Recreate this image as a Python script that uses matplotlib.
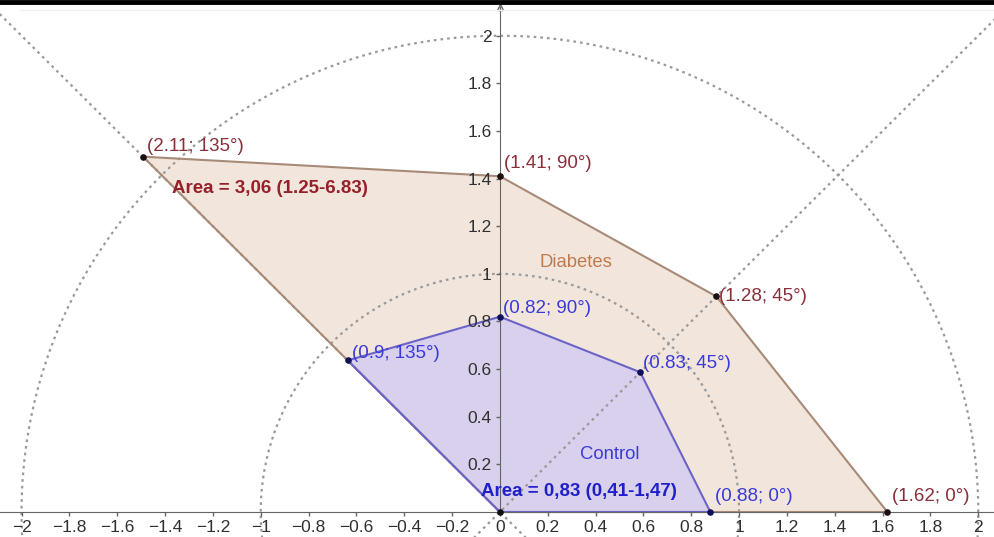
import numpy as np
import matplotlib
matplotlib.use('Agg')
from matplotlib import pyplot as plt
from matplotlib.lines import Line2D

plt.rcParams['font.family'] = ['Liberation Sans', 'DejaVu Sans']

# polar values (radius, angle in degrees)
angles = [0, 45, 90, 135]
diabetes_r = [1.62, 1.28, 1.41, 2.11]
control_r = [0.88, 0.83, 0.82, 0.9]
diabetes_area = 'Area = 3,06 (1.25-6.83)'
control_area = 'Area = 0,83 (0,41-1,47)'

x_ticks = [-2, -1.8, -1.6, -1.4, -1.2, -1, -0.8, -0.6, -0.4, -0.2, 0,
           0.2, 0.4, 0.6, 0.8, 1, 1.2, 1.4, 1.6, 1.8, 2]
x_labels = ['\u22122', '\u22121.8', '\u22121.6', '\u22121.4', '\u22121.2', '\u22121',
            '\u22120.8', '\u22120.6', '\u22120.4', '\u22120.2', '0',
            '0.2', '0.4', '0.6', '0.8', '1', '1.2', '1.4', '1.6', '1.8', '2']
y_ticks = [0.2, 0.4, 0.6, 0.8, 1, 1.2, 1.4, 1.6, 1.8, 2]
y_labels = ['0.2', '0.4', '0.6', '0.8', '1', '1.2', '1.4', '1.6', '1.8', '2']
circle_r = [1, 2]
guide_angles = [45, 135]


def to_xy(r, a):
    t = np.radians(np.array(a, dtype=float))
    r = np.array(r, dtype=float)
    return r * np.cos(t), r * np.sin(t)


fig = plt.figure(figsize=(9.95, 5.37), dpi=100)
ax = fig.add_axes([0, 0, 1, 1])
ax.set_xlim(-2.09, 2.07)
ax.set_ylim(-0.105, 2.15)
ax.set_axisbelow(False)

grey = '#9a9a9a'
# polygons (origin + the four points)
dx, dy = to_xy(diabetes_r, angles)
cx, cy = to_xy(control_r, angles)
ax.fill(np.r_[0, dx], np.r_[0, dy], facecolor='#f2e6dc', edgecolor='none', zorder=1)
ax.fill(np.r_[0, cx], np.r_[0, cy], facecolor='#d8d0ec', edgecolor='none', zorder=1.2)

# guide circles and diagonals, drawn over the fills
t = np.linspace(0, 2 * np.pi, 400)
for r in circle_r:
    ax.plot(r * np.cos(t), r * np.sin(t), color=grey, lw=1.6, ls=(0, (1.2, 1.8)), zorder=1.5)
for a in guide_angles:
    gx, gy = to_xy([-3, 3], [a, a])
    ax.plot(gx, gy, color=grey, lw=1.6, ls=(0, (1.2, 1.8)), zorder=1.5)

# polygon outlines
ax.plot(np.r_[0, dx, 0], np.r_[0, dy, 0], color='#a88a78', lw=1.5, zorder=1.7)
ax.plot(np.r_[0, cx, 0], np.r_[0, cy, 0], color='#6a64c8', lw=1.5, zorder=1.8)

ax.scatter(dx, dy, s=14, color='#1a1010', zorder=6)
ax.scatter(cx, cy, s=14, color='#10105a', zorder=6)
ax.scatter([0], [0], s=14, color='#101010', zorder=6)

# point labels
d_off = [(3, 11), (2, 0), (3, 9), (3, 7)]
c_off = [(3, 11), (2, 6), (2, 6), (3, 5)]
for r, a, x, y, o in zip(diabetes_r, angles, dx, dy, d_off):
    ax.annotate('(%s; %d\u00b0)' % (r, a), (x, y), xytext=o, textcoords='offset points',
                fontsize=13.5, color='#8a2e3a', va='center', ha='left', zorder=7)
for r, a, x, y, o in zip(control_r, angles, cx, cy, c_off):
    ax.annotate('(%s; %d\u00b0)' % (r, a), (x, y), xytext=o, textcoords='offset points',
                fontsize=13.5, color='#3a3ad8', va='center', ha='left', zorder=7)

ax.text(-1.37, 1.36, diabetes_area, fontsize=13.5, color='#96202a', fontweight='bold',
        va='center', ha='left', zorder=7)
ax.text(-0.077, 0.084, control_area, fontsize=13.5, color='#2020c8', fontweight='bold',
        va='center', ha='left', zorder=7)
ax.text(0.316, 1.048, 'Diabetes', fontsize=13.3, color='#c07a50', va='center', ha='center', zorder=7)
ax.text(0.458, 0.243, 'Control', fontsize=13.3, color='#3a3ad8', va='center', ha='center', zorder=7)

# axes through the origin
for s in ['top', 'right']:
    ax.spines[s].set_visible(False)
ax.spines['left'].set_position(('data', 0))
ax.spines['bottom'].set_position(('data', 0))
ax.spines['left'].set_bounds(0, 2.12)
ax.spines['left'].set_color('#666666')
ax.spines['bottom'].set_color('#666666')
ax.plot([0], [2.12], marker='^', ms=5, color='#666666', mfc='none', zorder=4, clip_on=False)
ax.set_xticks(x_ticks)
ax.set_xticklabels(x_labels)
ax.set_yticks(y_ticks)
ax.set_yticklabels(y_labels)
ax.tick_params(axis='both', labelsize=12.5, labelcolor='#303030', length=3, width=1,
               direction='out', pad=3, color='#666666')
ax.patch.set_alpha(0)

fig.add_artist(Line2D([0, 1], [0.996, 0.996], color='black', lw=3.5, transform=fig.transFigure))
fig.add_artist(Line2D([0.02, 1], [0.981, 0.981], color='#f0f0f0', lw=1, transform=fig.transFigure))

fig.savefig('out.png', dpi=100)
